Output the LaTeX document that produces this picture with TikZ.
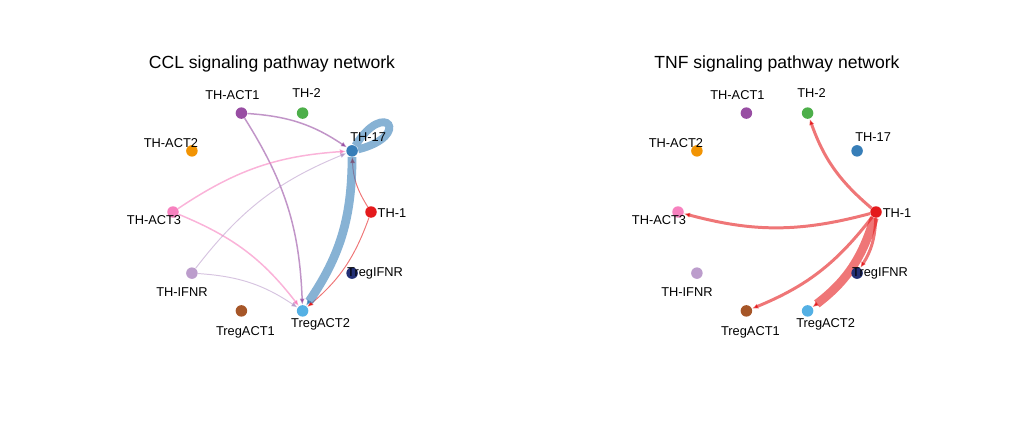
\documentclass[tikz,border=0pt]{standalone}
\usepackage{fontspec}
\setmainfont{Liberation Sans}
\usetikzlibrary{arrows.meta,backgrounds}
\tikzset{>={Latex[length=3.5pt,width=3pt]}}
\definecolor{thone}{HTML}{E41A1C}
\definecolor{thseventeen}{HTML}{377EB8}
\definecolor{thtwo}{HTML}{4DAF4A}
\definecolor{actone}{HTML}{984EA3}
\definecolor{acttwo}{HTML}{F29403}
\definecolor{actthree}{HTML}{F781BF}
\definecolor{ifnr}{HTML}{BC9DCC}
\definecolor{tregactone}{HTML}{A65628}
\definecolor{tregacttwo}{HTML}{54B0E4}
\definecolor{tregifnr}{HTML}{222F75}

\begin{document}
\begin{tikzpicture}[
    cell/.style={circle, inner sep=0pt, minimum size=2.3mm},
    lab/.style={anchor=base, inner sep=0pt, font=\fontsize{7.3}{8}\selectfont},
    title/.style={anchor=base, inner sep=0pt, font=\fontsize{10}{12}\selectfont},
    link/.style={->, bend left=15, draw opacity=0.6}]
    \useasboundingbox (0,0) rectangle (20.22,8.88);

    % CCL panel
    \node[title] (ctitle) at (5.44,7.52) {CCL signaling pathway network};
    \begin{scope}[shift={(5.44,4.64)}]
    \node[cell, fill=thone] (c1) at (0:1.98 and 2.08) {};
    \node[cell, fill=thseventeen] (c17) at (36:1.98 and 2.08) {};
    \node[cell, fill=thtwo] (c2) at (72:1.98 and 2.08) {};
    \node[cell, fill=actone] (ca1) at (108:1.98 and 2.08) {};
    \node[cell, fill=acttwo] (ca2) at (144:1.98 and 2.08) {};
    \node[cell, fill=actthree] (ca3) at (180:1.98 and 2.08) {};
    \node[cell, fill=ifnr] (cif) at (216:1.98 and 2.08) {};
    \node[cell, fill=tregactone] (cra1) at (252:1.98 and 2.08) {};
    \node[cell, fill=tregacttwo] (cra2) at (288:1.98 and 2.08) {};
    \node[cell, fill=tregifnr] (crif) at (324:1.98 and 2.08) {};
    \end{scope}
    \node (c1t) at (c1)[lab, xshift=4.2mm, yshift=-1.1mm]{TH-1};
    \node (c17t) at (c17)[lab, xshift=3.2mm, yshift=1.9mm]{TH-17};
    \node (c2t) at (c2)[lab, xshift=0.8mm, yshift=3.1mm]{TH-2};
    \node (ca1t) at (ca1)[lab, xshift=-1.8mm, yshift=2.7mm]{TH-ACT1};
    \node (ca2t) at (ca2)[lab, xshift=-4.2mm, yshift=0.7mm]{TH-ACT2};
    \node (ca3t) at (ca3)[lab, xshift=-3.8mm, yshift=-2.5mm]{TH-ACT3};
    \node (cift) at (cif)[lab, xshift=-2mm, yshift=-4.7mm]{TH-IFNR};
    \node (cra1t) at (cra1)[lab, xshift=0.8mm, yshift=-4.9mm]{TregACT1};
    \node (cra2t) at (cra2)[lab, xshift=3.6mm, yshift=-3.3mm]{TregACT2};
    \node (crift) at (crif)[lab, xshift=4.6mm, yshift=-0.7mm]{TregIFNR};
    \begin{scope}[on background layer]
    \draw[link, actone, line width=0.85pt] (ca1) to (c17);
    \draw[link, actone, line width=0.85pt] (ca1) to (cra2);
    \draw[link, actthree, line width=0.85pt] (ca3) to (c17);
    \draw[link, actthree, line width=0.85pt] (ca3) to (cra2);
    \draw[link, ifnr, line width=0.55pt] (cif) to (c17);
    \draw[link, ifnr, line width=0.55pt] (cif) to (cra2);
    \draw[link, thone, line width=0.55pt] (c1) to (c17);
    \draw[link, thone, line width=0.55pt] (c1) to (cra2);
    \draw[link, thseventeen, line width=5pt, bend left=17] (c17) to (cra2);
    \draw[thseventeen, draw opacity=0.6, line width=4.5pt] (c17) .. controls +(58:1.25) and +(14:1.25) .. (c17);
    \end{scope}

    % TNF panel
    \node[title] (ttitle) at (15.54,7.52) {TNF signaling pathway network};
    \begin{scope}[shift={(15.54,4.64)}]
    \node[cell, fill=thone] (t1) at (0:1.98 and 2.08) {};
    \node[cell, fill=thseventeen] (t17) at (36:1.98 and 2.08) {};
    \node[cell, fill=thtwo] (t2) at (72:1.98 and 2.08) {};
    \node[cell, fill=actone] (ta1) at (108:1.98 and 2.08) {};
    \node[cell, fill=acttwo] (ta2) at (144:1.98 and 2.08) {};
    \node[cell, fill=actthree] (ta3) at (180:1.98 and 2.08) {};
    \node[cell, fill=ifnr] (tif) at (216:1.98 and 2.08) {};
    \node[cell, fill=tregactone] (tra1) at (252:1.98 and 2.08) {};
    \node[cell, fill=tregacttwo] (tra2) at (288:1.98 and 2.08) {};
    \node[cell, fill=tregifnr] (trif) at (324:1.98 and 2.08) {};
    \end{scope}
    \node (t1t) at (t1)[lab, xshift=4.2mm, yshift=-1.1mm]{TH-1};
    \node (t17t) at (t17)[lab, xshift=3.2mm, yshift=1.9mm]{TH-17};
    \node (t2t) at (t2)[lab, xshift=0.8mm, yshift=3.1mm]{TH-2};
    \node (ta1t) at (ta1)[lab, xshift=-1.8mm, yshift=2.7mm]{TH-ACT1};
    \node (ta2t) at (ta2)[lab, xshift=-4.2mm, yshift=0.7mm]{TH-ACT2};
    \node (ta3t) at (ta3)[lab, xshift=-3.8mm, yshift=-2.5mm]{TH-ACT3};
    \node (tift) at (tif)[lab, xshift=-2mm, yshift=-4.7mm]{TH-IFNR};
    \node (tra1t) at (tra1)[lab, xshift=0.8mm, yshift=-4.9mm]{TregACT1};
    \node (tra2t) at (tra2)[lab, xshift=3.6mm, yshift=-3.3mm]{TregACT2};
    \node (trift) at (trif)[lab, xshift=4.6mm, yshift=-0.7mm]{TregIFNR};
    \begin{scope}[on background layer]
    \draw[link, thone, line width=1.7pt] (t1) to (t2);
    \draw[link, thone, line width=1.7pt] (t1) to (ta3);
    \draw[link, thone, line width=1.7pt] (t1) to (tra1);
    \draw[link, thone, line width=5pt, bend left=18] (t1) to (tra2);
    \draw[link, thone, line width=1.7pt] (t1) to (trif);
    \end{scope}
\end{tikzpicture}
\end{document}
